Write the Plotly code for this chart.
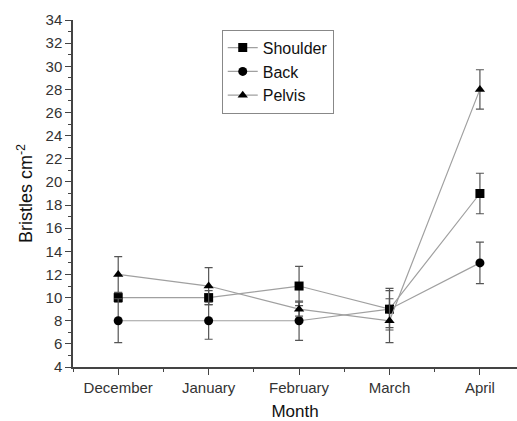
import plotly.graph_objects as go

months = ["December", "January", "February", "March", "April"]
shoulder = [10, 10, 11, 9, 19]
shoulder_err = [0.4, 0.6, 1.7, 1.8, 1.75]
back = [8, 8, 8, 9, 13]
back_err = [1.9, 1.6, 1.7, 1.6, 1.8]
pelvis = [12, 11, 9, 8, 28]
pelvis_err = [1.55, 1.6, 0.6, 1.9, 1.7]

xidx = list(range(len(months)))

fig = go.Figure()
series = [
    ("Shoulder", shoulder, shoulder_err, "square"),
    ("Back", back, back_err, "circle"),
    ("Pelvis", pelvis, pelvis_err, "triangle-up"),
]
for name, vals, err, sym in series:
    fig.add_trace(go.Scatter(
        x=xidx, y=vals, name=name, mode="lines+markers",
        line=dict(color="#a0a0a0", width=1.2),
        marker=dict(symbol=sym, size=9, color="black", line=dict(width=0)),
        error_y=dict(type="data", array=err, visible=True, color="#555555",
                     thickness=1.2, width=4),
    ))

font = "Liberation Sans, Arial, sans-serif"
fig.update_layout(
    width=517, height=421,
    margin=dict(l=73, r=0, t=20, b=54),
    paper_bgcolor="white", plot_bgcolor="white",
    font=dict(family=font, color="#222222"),
    showlegend=True,
    legend=dict(x=0.335, y=0.972, xanchor="left", yanchor="top",
                bordercolor="#888888", borderwidth=1, bgcolor="white",
                font=dict(size=16, family=font, color="#111111"),
                tracegroupgap=0, itemwidth=30),
    xaxis=dict(
        range=[-0.5, 4.41], tickvals=xidx, ticktext=months,
        showgrid=False, zeroline=False, showline=True, linecolor="#444444", linewidth=1.5,
        ticks="outside", ticklen=6, tickcolor="#444444", tickwidth=1.2,
        tickfont=dict(size=15, color="#333333"),
        minor=dict(tick0=-0.5, dtick=1, ticks="outside", ticklen=3, tickcolor="#444444"),
        title=dict(text="Month", font=dict(size=17, color="#111111"), standoff=10),
    ),
    yaxis=dict(
        range=[4, 34], dtick=2, tick0=4,
        showgrid=False, zeroline=False, showline=True, linecolor="#444444", linewidth=1.5,
        ticks="outside", ticklen=6, tickcolor="#444444", tickwidth=1.2,
        tickfont=dict(size=15, color="#333333"),
        minor=dict(dtick=1, ticks="outside", ticklen=3, tickcolor="#444444"),
        title=dict(text="Bristles cm<sup>-2</sup>", font=dict(size=18, color="#111111"), standoff=8),
    ),
)

fig.write_html("out.html")
